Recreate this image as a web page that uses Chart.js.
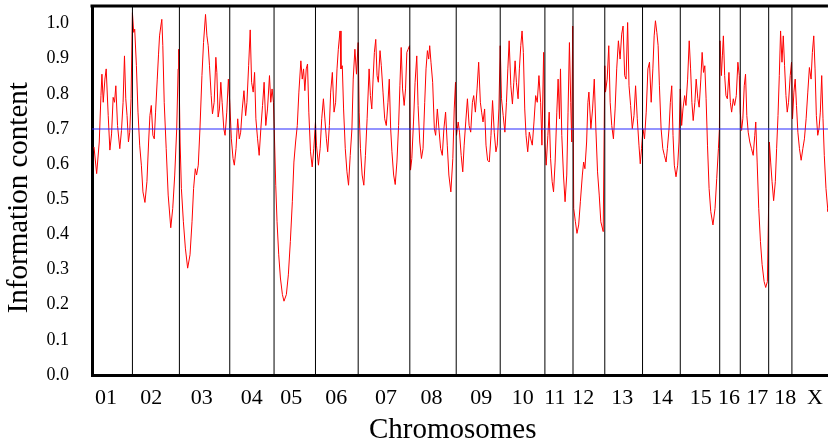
<!DOCTYPE html>
<html>
<head>
<meta charset="utf-8">
<script src="https://cdn.jsdelivr.net/npm/chart.js@4.4.0/dist/chart.umd.min.js"></script>
<style>
  html, body { margin: 0; padding: 0; background: #fff; overflow: hidden; }
</style>
</head>
<body>
<canvas id="icChart" width="833" height="444"></canvas>
<script>
// chromosome names and where their label sits on the map axis
const chromLabels = ['01', '02', '03', '04', '05', '06', '07', '08', '09', '10',
                     '11', '12', '13', '14', '15', '16', '17', '18', 'X'];
const labelPos = [13, 58.7, 109.5, 159.8, 199.5, 244.8, 295, 340.7, 391, 432.8,
                  465, 493.7, 533, 573, 612, 640.3, 668.7, 697, 727];
// cumulative end of each chromosome (map position)
const chromEnds = [39.7, 87.0, 137.7, 182.3, 224.0, 267.0, 319.0, 365.7, 410.0, 455.0,
                   483.3, 515.3, 553.3, 591.3, 631.0, 651.7, 680.3, 703.7, 750];

// information content along the genome
const icPos = [
  1.0,3.7,6.3,8.0,9.0,10.3,12.0,13.3,15.3,17.0,18.7,20.3,21.7,23.0,24.7,27.0,28.7,30.3,31.7,33.0,34.3,35.7,37.0,38.3,39.7,
  41.0,42.0,43.7,45.3,47.0,48.7,50.3,52.3,54.3,56.0,57.3,58.7,60.3,61.7,63.0,64.7,66.0,67.0,68.3,69.3,70.3,71.7,73.7,75.7,78.3,80.3,82.3,84.3,85.7,86.3,
  87.7,89.0,91.0,93.0,95.3,97.7,99.7,101.3,103.0,104.3,106.0,107.7,109.7,111.3,113.3,114.7,116.0,117.3,119.0,120.3,122.0,123.7,124.7,126.0,127.3,128.7,130.0,131.7,133.0,134.7,136.3,137.7,
  139.3,141.0,142.3,144.0,145.7,147.3,148.7,150.3,152.0,153.7,155.0,156.7,158.3,159.7,161.3,162.7,164.0,165.7,167.3,169.0,170.7,172.3,174.0,175.7,177.7,179.0,180.3,181.7,182.3,
  184.0,185.3,187.0,188.7,190.7,192.3,194.7,196.7,198.7,200.7,202.3,204.0,205.7,207.3,209.3,210.7,212.0,213.3,214.7,216.0,217.3,219.0,220.7,222.3,224.0,
  225.0,227.0,228.7,230.3,232.0,233.7,235.0,236.3,238.0,239.3,241.0,242.7,244.3,245.7,247.0,248.7,249.7,251.0,252.3,254.0,255.7,257.3,259.0,260.7,262.0,263.7,265.3,267.0,
  268.0,269.3,271.0,272.7,274.3,276.0,278.0,279.3,280.7,282.0,283.3,284.7,286.0,287.3,289.0,290.3,292.0,293.7,295.3,297.0,298.3,299.7,301.0,302.7,304.3,306.0,307.7,309.0,310.3,311.7,313.3,314.7,316.0,317.3,318.7,
  319.7,321.0,322.7,324.3,326.0,327.3,329.0,330.7,332.3,334.0,335.3,336.7,338.0,339.0,340.3,342.0,343.7,345.0,346.7,348.3,350.0,351.7,353.3,355.0,356.7,358.3,360.3,362.3,363.7,365.0,
  366.0,367.7,369.0,370.7,372.3,373.7,375.3,377.0,378.7,380.3,382.0,383.3,385.0,386.7,388.3,390.0,391.3,392.7,394.3,395.7,397.3,399.0,400.7,402.3,404.0,405.7,407.0,408.7,410.0,
  411.3,413.0,414.7,416.3,417.7,419.0,420.7,422.3,423.7,425.0,426.3,428.0,429.3,430.7,432.0,433.3,434.7,436.0,437.7,439.3,440.7,442.3,444.0,445.7,447.3,449.0,450.7,452.0,453.7,
  455.0,456.3,458.0,459.3,460.7,462.3,463.7,465.3,467.0,468.3,469.7,470.7,472.0,473.7,475.3,477.0,478.3,479.7,481.0,482.0,483.0,
  484.0,485.7,487.3,489.0,490.7,492.7,494.0,495.3,497.0,498.3,499.3,501.3,503.0,504.7,506.3,508.0,509.7,511.3,513.7,
  515.3,516.0,517.7,519.3,520.7,522.3,524.0,525.7,527.3,529.0,530.7,532.3,533.7,535.3,536.7,538.3,539.7,541.3,543.0,544.7,546.3,548.0,549.7,551.0,552.3,
  553.7,555.3,557.0,558.7,560.3,562.0,563.7,565.0,566.3,567.7,569.0,570.3,572.0,573.7,575.3,577.0,578.3,580.0,581.3,582.7,584.0,585.3,587.0,588.7,590.0,
  591.3,592.7,594.0,595.7,597.0,598.7,600.3,601.7,603.0,604.3,606.0,607.3,609.0,610.3,612.0,613.3,614.7,616.0,617.3,618.7,620.3,622.0,624.2,626.3,628.0,629.7,630.7,
  631.3,632.7,633.7,634.7,636.0,637.3,638.7,640.3,641.7,643.0,644.7,646.0,647.7,649.3,650.7,651.7,
  653.0,654.3,655.7,657.0,658.3,659.7,661.3,663.0,664.7,666.3,667.3,668.7,670.3,672.0,673.7,675.7,677.3,679.0,
  680.3,681.0,682.3,683.7,685.3,687.0,688.3,689.7,691.0,692.3,693.7,695.0,696.3,697.7,699.0,700.3,702.0,703.3,
  704.3,705.7,707.0,708.3,709.7,711.3,713.0,714.7,716.3,718.0,719.7,721.3,723.0,724.3,725.7,727.0,728.3,729.7,731.0,732.3,733.7,735.0,736.3,738.0,739.7,740.0
];
const icValue = [
  .649,.573,.663,.795,.856,.776,.842,.871,.739,.640,.686,.790,.776,.823,.710,.644,.696,.776,.908,.786,.738,.663,.691,.786,1.031,
  .975,.984,.880,.748,.654,.597,.521,.491,.550,.663,.738,.767,.682,.672,.748,.842,.913,.965,.993,1.012,.937,.776,.644,.512,.419,.474,.569,.701,.871,.927,
  .663,.531,.436,.361,.304,.342,.436,.531,.587,.569,.597,.701,.852,.946,1.026,.965,.937,.880,.795,.743,.776,.904,.861,.734,.757,.833,.776,.701,.682,.748,.842,.776,
  .672,.616,.597,.644,.729,.672,.691,.757,.809,.738,.776,.880,.982,.833,.805,.861,.729,.672,.625,.701,.767,.833,.710,.757,.852,.776,.814,.776,.720,
  .540,.436,.342,.276,.229,.210,.229,.285,.380,.493,.606,.663,.710,.805,.894,.842,.871,.809,.871,.885,.748,.635,.592,.644,.720,
  .654,.597,.644,.729,.786,.720,.672,.635,.710,.805,.861,.748,.776,.871,.927,.979,.871,.880,.757,.644,.578,.540,.625,.701,.842,.927,.856,.946,
  .748,.644,.569,.540,.625,.729,.871,.795,.757,.842,.918,.955,.852,.833,.923,.880,.805,.729,.710,.776,.842,.701,.635,.569,.542,.606,.710,.823,.932,.814,.767,.814,.918,.927,.937,
  .583,.616,.720,.833,.908,.767,.663,.616,.644,.776,.871,.923,.899,.937,.890,.833,.701,.682,.757,.701,.644,.625,.701,.748,.654,.569,.521,.616,.757,.833,
  .682,.720,.691,.625,.578,.654,.720,.786,.710,.691,.776,.795,.748,.814,.890,.776,.748,.720,.757,.654,.611,.606,.682,.781,.691,.635,.654,.757,.937,
  .786,.738,.691,.776,.871,.951,.823,.771,.833,.894,.833,.786,.871,.937,.979,.918,.757,.682,.635,.691,.672,.654,.720,.795,.776,.852,.776,.654,.918,
  .663,.597,.682,.748,.616,.550,.521,.606,.748,.842,.729,.871,.682,.569,.493,.569,.748,.946,.776,.663,.993,
  .474,.436,.403,.427,.493,.569,.606,.587,.663,.776,.805,.701,.757,.842,.701,.578,.512,.436,.408,
  .880,.805,.842,.937,.776,.710,.672,.757,.871,.951,.899,.970,.993,.852,.842,1.003,.823,.767,.701,.738,.823,.729,.654,.601,.644,
  .701,.672,.748,.871,.890,.776,.871,.965,1.008,.975,.937,.823,.701,.644,.625,.606,.644,.701,.776,.823,.682,.597,.564,.597,.663,
  .814,.710,.757,.795,.767,.842,.951,.871,.776,.724,.776,.842,.786,.762,.842,.918,.861,.880,.786,.654,.531,.465,.427,.474,.559,.644,.701,
  .951,.852,.908,.965,.852,.795,.786,.861,.776,.748,.786,.767,.795,.890,.852,.748,
  .696,.729,.823,.856,.738,.691,.663,.644,.625,.682,.720,.606,.474,.380,.314,.266,.249,.266,
  .493,.663,.606,.550,.496,.550,.644,.738,.852,.979,.890,.965,.880,.795,.748,.776,.852,.890,
  .729,.805,.842,.767,.691,.644,.611,.644,.672,.729,.805,.875,.842,.918,.965,.871,.738,.682,.701,.748,.852,.729,.625,.531,.474,.465
];
const threshold = 0.70;

const serif = "'Liberation Serif', 'Times New Roman', serif";
const xMin = -1, xMax = 740, yMax = 1.05;

const datasets = [{
  label: 'ic',
  data: icPos.map((x, i) => ({ x: x, y: icValue[i] })),
  borderColor: 'rgb(255, 0, 0)',
  backgroundColor: 'rgb(255, 0, 0)',
  borderWidth: 1,
  pointRadius: 0,
  tension: 0,
  order: 3
}];

// chromosome boundaries
chromEnds.slice(0, -1).forEach((b, i) => {
  datasets.push({
    label: 'chr' + i,
    data: [{ x: b, y: 0 }, { x: b, y: yMax }],
    borderColor: 'rgb(0, 0, 0)',
    backgroundColor: 'rgb(0, 0, 0)',
    borderWidth: 1,
    pointRadius: 0,
    order: 2
  });
});

// threshold line
datasets.push({
  label: 'threshold',
  data: [{ x: xMin, y: threshold }, { x: xMax, y: threshold }],
  borderColor: 'rgb(40, 40, 255)',
  backgroundColor: 'rgb(40, 40, 255)',
  borderWidth: 1.2,
  pointRadius: 0,
  order: 1
});

// thick frame line along the top of the plot
const topFrame = {
  id: 'topFrame',
  afterDraw(chart) {
    const { ctx, chartArea } = chart;
    ctx.save();
    ctx.strokeStyle = '#000';
    ctx.lineWidth = 3;
    ctx.beginPath();
    ctx.moveTo(chartArea.left - 1.5, chartArea.top);
    ctx.lineTo(chartArea.right, chartArea.top);
    ctx.stroke();
    ctx.restore();
  }
};

new Chart(document.getElementById('icChart'), {
  type: 'line',
  data: { datasets: datasets },
  plugins: [topFrame],
  options: {
    responsive: false,
    animation: false,
    events: [],
    layout: { padding: { top: 6, right: 0, bottom: 0, left: 0 } },
    plugins: { legend: { display: false }, tooltip: { enabled: false } },
    scales: {
      x: {
        type: 'linear',
        min: xMin,
        max: xMax,
        grid: { display: false, drawTicks: false },
        border: { display: true, color: '#000', width: 3 },
        afterBuildTicks: scale => { scale.ticks = labelPos.map(v => ({ value: v })); },
        afterFit: scale => { scale.height = 69; },
        ticks: {
          autoSkip: false,
          maxRotation: 0,
          padding: 10,
          color: '#000',
          font: { family: serif, size: 22 },
          callback: (v, i) => chromLabels[i]
        },
        title: {
          display: true,
          text: 'Chromosomes  ',
          color: '#000',
          padding: 0,
          font: { family: serif, size: 29, lineHeight: 0.93 }
        }
      },
      y: {
        min: 0,
        max: yMax,
        grid: { display: false, drawTicks: false },
        border: { display: true, color: '#000', width: 3 },
        afterFit: scale => {
          scale.width = 92;
          scale.paddingTop = 0;
          scale.paddingBottom = 0;
        },
        ticks: {
          stepSize: 0.1,
          includeBounds: false,
          padding: 23,
          color: '#000',
          font: { family: serif, size: 18 },
          callback: v => v.toFixed(1)
        },
        title: {
          display: true,
          text: 'Information content  ',
          color: '#000',
          padding: { top: 2, bottom: 0 },
          font: { family: serif, size: 29 }
        }
      }
    }
  }
});
</script>
</body>
</html>
